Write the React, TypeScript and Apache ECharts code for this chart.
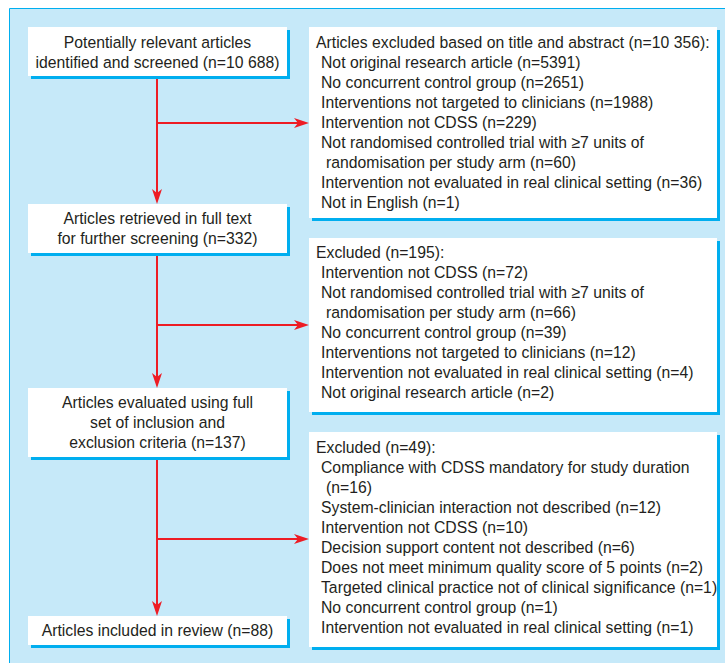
import React, { useEffect, useRef } from "react";
import * as echarts from "echarts";

// ---- Data (text content of the flow chart) ----
const MAIN_LABELS: string[][] = [
  ["Potentially relevant articles", "identified and screened (n=10 688)"],
  ["Articles retrieved in full text", "for further screening (n=332)"],
  ["Articles evaluated using full", "set of inclusion and", "exclusion criteria (n=137)"],
  ["Articles included in review (n=88)"],
];

const EXCL_TITLES: string[] = [
  "Articles excluded based on title and abstract (n=10 356):",
  "Excluded (n=195):",
  "Excluded (n=49):",
];

const EXCL_ITEMS_1: string[][] = [
  ["Not original research article (n=5391)"],
  ["No concurrent control group (n=2651)"],
  ["Interventions not targeted to clinicians (n=1988)"],
  ["Intervention not CDSS (n=229)"],
  ["Not randomised controlled trial with \u22657 units of", "randomisation per study arm (n=60)"],
  ["Intervention not evaluated in real clinical setting (n=36)"],
  ["Not in English (n=1)"],
];

const EXCL_ITEMS_2: string[][] = [
  ["Intervention not CDSS (n=72)"],
  ["Not randomised controlled trial with \u22657 units of", "randomisation per study arm (n=66)"],
  ["No concurrent control group (n=39)"],
  ["Interventions not targeted to clinicians (n=12)"],
  ["Intervention not evaluated in real clinical setting (n=4)"],
  ["Not original research article (n=2)"],
];

const EXCL_ITEMS_3: string[][] = [
  ["Compliance with CDSS mandatory for study duration", "(n=16)"],
  ["System-clinician interaction not described (n=12)"],
  ["Intervention not CDSS (n=10)"],
  ["Decision support content not described (n=6)"],
  ["Does not meet minimum quality score of 5 points (n=2)"],
  ["Targeted clinical practice not of clinical significance (n=1)"],
  ["No concurrent control group (n=1)"],
  ["Intervention not evaluated in real clinical setting (n=1)"],
];

const EXCL_ITEMS = [EXCL_ITEMS_1, EXCL_ITEMS_2, EXCL_ITEMS_3];

// ---- Layout & style ----
const BG = "#c6e9f9";
const BLUE = "#00aeef";
const RED = "#ed1c24";
const INK = "#231f20";
const FONT = "'Liberation Sans', Arial, sans-serif";
const FS = 16.5;
const SX = 0.955;
const STEP = 20;

const MAIN_X = 28;
const MAIN_W = 259;
const MAIN_BOX = [
  { y: 27, h: 49, ty: 42 },
  { y: 204, h: 49, ty: 218 },
  { y: 388, h: 69, ty: 402 },
  { y: 616, h: 29, ty: 630 },
];
const RIGHT_X = 309;
const RIGHT_W = 408;
const RIGHT_BOX = [
  { y: 27, h: 191, ty: 42 },
  { y: 238, h: 174, ty: 252 },
  { y: 432, h: 215, ty: 447 },
];
const BRANCH_Y = [123, 325, 539];
const AXIS_X = 157;

function boxWithShadow(x: number, y: number, w: number, h: number): any[] {
  return [
    { type: "rect", shape: { x: x + 3, y: y + 3, width: w, height: h }, style: { fill: BLUE } },
    { type: "rect", shape: { x, y, width: w, height: h }, style: { fill: "#ffffff" } },
  ];
}

function text(x: number, y: number, s: string, align: string): any {
  return {
    type: "text",
    x,
    y,
    scaleX: SX,
    style: {
      text: s,
      fill: INK,
      fontFamily: FONT,
      fontSize: FS,
      align,
      verticalAlign: "middle",
    },
  };
}

function downArrow(x: number, y0: number, y1: number): any[] {
  return [
    { type: "line", shape: { x1: x, y1: y0, x2: x, y2: y1 - 10 }, style: { stroke: RED, lineWidth: 2 } },
    {
      type: "polygon",
      shape: { points: [[x, y1], [x - 5, y1 - 15], [x, y1 - 11], [x + 5, y1 - 15]] },
      style: { fill: RED },
    },
  ];
}

function rightArrow(x0: number, x1: number, y: number): any[] {
  return [
    { type: "line", shape: { x1: x0, y1: y, x2: x1 - 10, y2: y }, style: { stroke: RED, lineWidth: 2 } },
    {
      type: "polygon",
      shape: { points: [[x1, y], [x1 - 15, y - 5], [x1 - 11, y], [x1 - 15, y + 5]] },
      style: { fill: RED },
    },
  ];
}

function buildGraphics(): any[] {
  const els: any[] = [];
  els.push({
    type: "rect",
    shape: { x: 9.5, y: 8.5, width: 800, height: 800 },
    style: { fill: BG, stroke: BLUE, lineWidth: 1 },
  });

  for (let i = 0; i < 3; i++) {
    const from = MAIN_BOX[i].y + MAIN_BOX[i].h;
    const to = MAIN_BOX[i + 1].y;
    els.push(...downArrow(AXIS_X, from, to));
    els.push(...rightArrow(AXIS_X, RIGHT_X, BRANCH_Y[i]));
  }

  MAIN_LABELS.forEach((lines, i) => {
    const b = MAIN_BOX[i];
    els.push(...boxWithShadow(MAIN_X, b.y, MAIN_W, b.h));
    lines.forEach((ln, j) => {
      els.push(text(MAIN_X + MAIN_W / 2, b.ty + j * STEP, ln, "center"));
    });
  });

  EXCL_TITLES.forEach((title, i) => {
    const b = RIGHT_BOX[i];
    els.push(...boxWithShadow(RIGHT_X, b.y, RIGHT_W, b.h));
    let row = 0;
    els.push(text(RIGHT_X + 7, b.ty + row * STEP, title, "left"));
    row++;
    EXCL_ITEMS[i].forEach((item) => {
      item.forEach((ln, k) => {
        els.push(text(RIGHT_X + (k === 0 ? 12 : 17), b.ty + row * STEP, ln, "left"));
        row++;
      });
    });
  });
  return els;
}

export default function App() {
  const ref = useRef<HTMLDivElement>(null);
  useEffect(() => {
    document.body.style.margin = "0";
    const chart = echarts.init(ref.current!, undefined, { renderer: "svg" });
    chart.setOption({
      animation: false,
      backgroundColor: "#ffffff",
      graphic: { elements: buildGraphics() },
    });
    return () => chart.dispose();
  }, []);
  return <div ref={ref} style={{ width: 725, height: 663 }} />;
}
